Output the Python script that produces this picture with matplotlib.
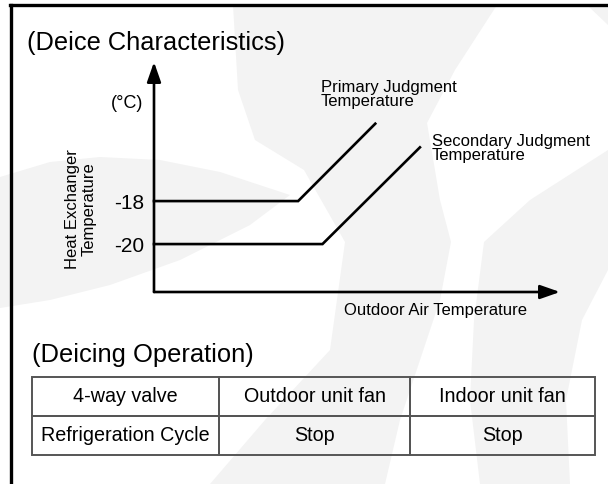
import matplotlib
matplotlib.use("Agg")
import matplotlib.pyplot as plt
from matplotlib.patches import Polygon
from matplotlib.lines import Line2D

plt.rcParams["font.family"] = ["Liberation Sans", "DejaVu Sans"]

# deice characteristic curves (outdoor temp in arbitrary units, heat exchanger temp in degC)
primary_x = [0.0, 3.55, 5.45]
primary_y = [-18.0, -18.0, -14.4]
secondary_x = [0.0, 4.15, 6.55]
secondary_y = [-20.0, -20.0, -15.5]
y_ticks = [-18, -20]
y_tick_labels = ["-18", "-20"]

# deicing operation table
table_rows = [
    ["4-way valve", "Outdoor unit fan", "Indoor unit fan"],
    ["Refrigeration Cycle", "Stop", "Stop"],
]
col_widths = [187, 191, 185]

W, H = 608, 484
fig = plt.figure(figsize=(W / 100, H / 100), dpi=100)

def fx(px):
    return px / W

def fy(py):
    return 1 - py / H

# faint background shapes
bg = fig.add_axes([0, 0, 1, 1], zorder=0)
bg.set_xlim(0, W)
bg.set_ylim(H, 0)
bg.axis("off")
shade = "#f3f3f3"
shapes = [
    [(233, 5), (497, 5), (455, 70), (427, 123), (440, 200), (451, 242), (440, 300), (420, 360),
     (400, 420), (385, 484), (210, 484), (265, 420), (330, 350), (345, 242), (304, 170),
     (255, 140), (238, 90)],
    [(608, 150), (608, 270), (582, 320), (566, 400), (570, 484), (480, 484), (470, 400),
     (474, 320), (484, 242), (530, 200)],
    [(587, 5), (608, 5), (608, 25)],
    [(0, 177), (50, 162), (100, 157), (160, 160), (220, 172), (290, 195), (250, 225),
     (180, 260), (110, 285), (50, 300), (0, 308)],
]
for pts in shapes:
    bg.add_patch(Polygon(pts, closed=True, facecolor=shade, edgecolor="none"))

# outer frame (top and left)
fig.add_artist(Line2D([fx(10), 1], [fy(5), fy(5)], color="black", lw=2.4))
fig.add_artist(Line2D([fx(11), fx(11)], [fy(5), 0], color="black", lw=2.4))

fig.text(fx(27), fy(43), "(Deice Characteristics)", fontsize=18.3, va="center", ha="left")

# chart area
ax = fig.add_axes([fx(154), fy(292), fx(406), fy(62) - fy(292)], zorder=2)
ax.patch.set_alpha(0)
x0, x1 = 0, 10
y0, y1 = -22.23, -11.53
ax.set_xlim(x0, x1)
ax.set_ylim(y0, y1)
for s in ax.spines.values():
    s.set_visible(False)
ax.set_xticks([])
ax.set_yticks(y_ticks)
ax.set_yticklabels(y_tick_labels, fontsize=15)
ax.tick_params(axis="y", length=0, pad=7)

arrow = dict(arrowstyle="-|>,head_length=1.2,head_width=0.42", color="black", lw=1.9,
             shrinkA=0, shrinkB=0)
ax.annotate("", xy=(0, y1), xytext=(0, y0), arrowprops=arrow, annotation_clip=False)
ax.annotate("", xy=(x1, y0), xytext=(0, y0), arrowprops=arrow, annotation_clip=False)

ax.plot(primary_x, primary_y, color="black", lw=1.9, solid_joinstyle="miter", clip_on=False)
ax.plot(secondary_x, secondary_y, color="black", lw=1.9, solid_joinstyle="miter", clip_on=False)

fig.text(fx(321), fy(80), "Primary Judgment\nTemperature", fontsize=12, ha="left", va="top",
         linespacing=0.95)
fig.text(fx(432), fy(134), "Secondary Judgment\nTemperature", fontsize=12, ha="left", va="top",
         linespacing=0.95)
fig.text(fx(127), fy(103), "(\u00b0C)", fontsize=13, ha="center", va="center")
fig.text(fx(81), fy(209), "Heat Exchanger\nTemperature", fontsize=12, ha="center", va="center",
         rotation=90, linespacing=1.1)
fig.text(fx(436), fy(310), "Outdoor Air Temperature", fontsize=12, ha="center", va="center")

fig.text(fx(32), fy(355), "(Deicing Operation)", fontsize=18.4, ha="left", va="center")

# operation table
tax = fig.add_axes([fx(32), fy(455), fx(563), fy(377) - fy(455)], zorder=2)
tax.axis("off")
total = sum(col_widths)
tbl = tax.table(cellText=table_rows, colWidths=[w / total for w in col_widths],
                bbox=[0, 0, 1, 1], cellLoc="center")
tbl.auto_set_font_size(False)
for (r, c), cell in tbl.get_celld().items():
    cell.set_edgecolor("#555555")
    cell.set_linewidth(1.4)
    cell.set_facecolor("none")
    cell.get_text().set_fontsize(14.2)
    cell.PAD = 0.02

fig.savefig("out.png", dpi=100)
